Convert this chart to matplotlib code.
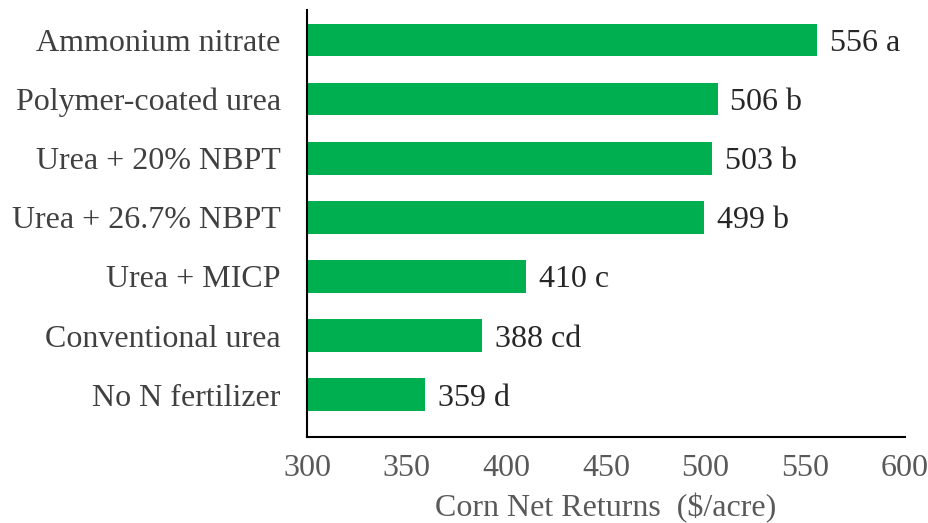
import matplotlib.pyplot as plt

# data, top to bottom as shown
treatments = ['Ammonium nitrate', 'Polymer-coated urea', 'Urea + 20% NBPT',
              'Urea + 26.7% NBPT', 'Urea + MICP', 'Conventional urea', 'No N fertilizer']
returns = [556, 506, 503, 499, 410, 388, 359]
letters = ['a', 'b', 'b', 'b', 'c', 'cd', 'd']

plt.rcParams['font.family'] = ['Liberation Serif', 'DejaVu Serif']

fig = plt.figure(figsize=(9.29, 5.23), dpi=100)
ax = fig.add_axes([0.3305, 0.164, 0.6435, 0.817])

# plot bottom-up so the first item sits on top
y = list(range(len(treatments)))[::-1]
ax.barh(y, returns, height=0.55, left=0, color='#00B050')
ax.set_xlim(300, 600)
ax.set_ylim(-0.72, 6.51)

for yi, v, l in zip(y, returns, letters):
    ax.text(v + 6.5, yi, f'{v} {l}', va='center_baseline', ha='left', fontsize=23, color='#262626')

ax.set_yticks(y)
ax.set_yticklabels(treatments, fontsize=23, color='#404040')
ax.set_xticks([300, 350, 400, 450, 500, 550, 600])
ax.tick_params(axis='x', length=0, pad=12, labelsize=23, labelcolor='#595959')
ax.tick_params(axis='y', length=0, pad=19)
ax.set_xlabel('Corn Net Returns  ($/acre)', fontsize=23, color='#595959', labelpad=7)

for s in ['top', 'right']:
    ax.spines[s].set_visible(False)
ax.spines['left'].set_color('#000000')
ax.spines['bottom'].set_color('#000000')
ax.spines['left'].set_linewidth(1.5)
ax.spines['bottom'].set_linewidth(1.5)

fig.savefig('out.png', dpi=100)
